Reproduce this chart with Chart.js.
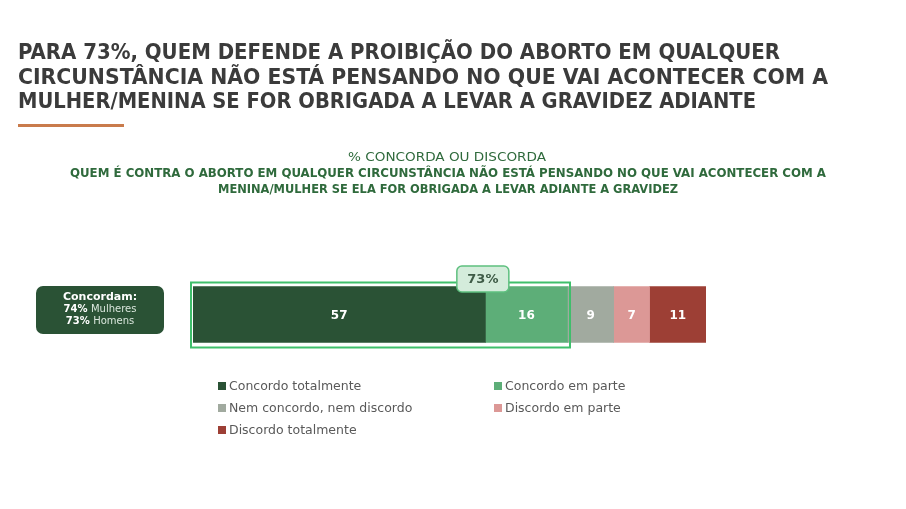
<!DOCTYPE html>
<html lang="pt">
<head>
<meta charset="UTF-8">
<title>Concorda ou discorda</title>
<script src="https://cdn.jsdelivr.net/npm/chart.js@4"></script>
<style>
  html, body { margin: 0; padding: 0; background: #fff; }
  #wrap { position: relative; width: 906px; height: 509px; }
</style>
</head>
<body>
<div id="wrap"><canvas id="chart" width="906" height="509"></canvas></div>
<script>
// data
const categories = ['Total'];
const seriesLabels = ['Concordo totalmente', 'Concordo em parte', 'Nem concordo, nem discordo', 'Discordo em parte', 'Discordo totalmente'];
const seriesValues = [57, 16, 9, 7, 11];
const seriesColors = ['#2a5235', '#5dae78', '#a1aa9f', '#dc9896', '#9d3f35'];
const agreeTotal = 73;
const agreeByGroup = [['74%', 'Mulheres'], ['73%', 'Homens']];

const titleLines = [
  'PARA 73%, QUEM DEFENDE A PROIBIÇÃO DO ABORTO EM QUALQUER',
  'CIRCUNSTÂNCIA NÃO ESTÁ PENSANDO NO QUE VAI ACONTECER COM A',
  'MULHER/MENINA SE FOR OBRIGADA A LEVAR A GRAVIDEZ ADIANTE'
];
const subTitle = '% CONCORDA OU DISCORDA';
const questionLines = [
  'QUEM É CONTRA O ABORTO EM QUALQUER CIRCUNSTÂNCIA NÃO ESTÁ PENSANDO NO QUE VAI ACONTECER COM A',
  'MENINA/MULHER SE ELA FOR OBRIGADA A LEVAR ADIANTE A GRAVIDEZ'
];

function roundRect(ctx, x, y, w, h, r) {
  ctx.beginPath();
  ctx.moveTo(x + r, y);
  ctx.arcTo(x + w, y, x + w, y + h, r);
  ctx.arcTo(x + w, y + h, x, y + h, r);
  ctx.arcTo(x, y + h, x, y, r);
  ctx.arcTo(x, y, x + w, y, r);
  ctx.closePath();
}

// draw text stretched/squeezed to a given width, starting at x
function fitText(ctx, text, x, y, width) {
  const w = ctx.measureText(text).width;
  ctx.save();
  ctx.textAlign = 'left';
  ctx.translate(x, y);
  ctx.scale(width / w, 1);
  ctx.fillText(text, 0, 0);
  ctx.restore();
}

const decor = {
  id: 'decor',
  beforeDraw(chart) {
    const ctx = chart.ctx;
    ctx.save();
    // title
    ctx.fillStyle = '#3b3b3b';
    ctx.textBaseline = 'alphabetic';
    ctx.font = 'bold 21px "DejaVu Sans Condensed", "DejaVu Sans"';
    const titleEnd = [780, 828, 756];
    [59, 84, 108].forEach((y, i) => fitText(ctx, titleLines[i], 18, y, titleEnd[i] - 18));
    ctx.fillStyle = '#c97b4c';
    ctx.fillRect(18, 124, 106, 3);

    // subtitle + question
    ctx.fillStyle = '#2f6a3c';
    ctx.font = '12px "DejaVu Sans Condensed", "DejaVu Sans"';
    fitText(ctx, subTitle, 348, 161, 198);
    ctx.font = 'bold 12px "DejaVu Sans Condensed", "DejaVu Sans"';
    fitText(ctx, questionLines[0], 70, 177, 756);
    fitText(ctx, questionLines[1], 218, 193, 460);

    // left box
    ctx.textAlign = 'center';
    ctx.fillStyle = '#2a5235';
    roundRect(ctx, 36, 286, 128, 48, 7);
    ctx.fill();
    ctx.fillStyle = '#ffffff';
    ctx.font = 'bold 11px "DejaVu Sans"';
    ctx.fillText('Concordam:', 100, 300);
    [312, 324].forEach((y, i) => {
      const [pct, grp] = agreeByGroup[i];
      ctx.font = 'bold 10px "DejaVu Sans"';
      const w1 = ctx.measureText(pct + ' ').width;
      ctx.font = '10px "DejaVu Sans"';
      const w2 = ctx.measureText(grp).width;
      const x0 = 100 - (w1 + w2) / 2;
      ctx.textAlign = 'left';
      ctx.font = 'bold 10px "DejaVu Sans"';
      ctx.fillStyle = '#ffffff';
      ctx.fillText(pct, x0, y);
      ctx.font = '10px "DejaVu Sans"';
      ctx.fillStyle = '#d9e6dc';
      ctx.fillText(grp, x0 + w1, y);
      ctx.textAlign = 'center';
    });

    // legend, two columns
    ctx.textAlign = 'left';
    ctx.textBaseline = 'middle';
    ctx.font = '12.5px "DejaVu Sans"';
    seriesLabels.forEach((lab, i) => {
      const col = i % 2, row = Math.floor(i / 2);
      const x = col === 0 ? 218 : 494;
      const y = 386 + row * 22;
      ctx.fillStyle = seriesColors[i];
      ctx.fillRect(x, y - 4, 8, 8);
      ctx.fillStyle = '#595959';
      ctx.fillText(lab, x + 11, y + 1);
    });
    ctx.restore();
  },
  afterDatasetsDraw(chart) {
    const ctx = chart.ctx;
    const xs = chart.scales.x;
    ctx.save();
    // segment values
    ctx.fillStyle = '#ffffff';
    ctx.font = 'bold 12px "DejaVu Sans"';
    ctx.textAlign = 'center';
    ctx.textBaseline = 'middle';
    chart.data.datasets.forEach((ds, i) => {
      const bar = chart.getDatasetMeta(i).data[0];
      const left = Math.min(bar.x, bar.base), right = Math.max(bar.x, bar.base);
      ctx.fillText(String(ds.data[0]), (left + right) / 2, bar.y + 1);
    });
    // outline round the "agree" share
    const b0 = chart.getDatasetMeta(0).data[0];
    const top = b0.y - b0.height / 2, bottom = b0.y + b0.height / 2;
    const x0 = xs.getPixelForValue(0) - 2;
    const x1 = xs.getPixelForValue(agreeTotal) + 2.5;
    ctx.strokeStyle = '#3fbf6b';
    ctx.lineWidth = 2;
    ctx.strokeRect(x0, top - 4, x1 - x0, bottom - top + 9);
    // 73% label
    const cx = xs.getPixelForValue(56.5);
    ctx.fillStyle = '#d4ecdb';
    roundRect(ctx, cx - 26, 266, 52, 26, 5);
    ctx.fill();
    ctx.strokeStyle = '#5ec07f';
    ctx.lineWidth = 1.5;
    ctx.stroke();
    ctx.fillStyle = '#3e5b46';
    ctx.font = 'bold 13px "DejaVu Sans"';
    ctx.fillText(agreeTotal + '%', cx, 280);
    ctx.restore();
  }
};

new Chart(document.getElementById('chart'), {
  type: 'bar',
  data: {
    labels: categories,
    datasets: seriesLabels.map((lab, i) => ({
      label: lab,
      data: [seriesValues[i]],
      backgroundColor: seriesColors[i],
      borderWidth: 0,
      barThickness: 56
    }))
  },
  options: {
    indexAxis: 'y',
    responsive: false,
    animation: false,
    layout: { padding: { left: 193, right: 200, top: 259, bottom: 139 } },
    scales: {
      x: { stacked: true, min: 0, max: 100, display: false },
      y: { stacked: true, display: false }
    },
    plugins: {
      legend: { display: false },
      tooltip: { enabled: false }
    }
  },
  plugins: [decor]
});
</script>
</body>
</html>
